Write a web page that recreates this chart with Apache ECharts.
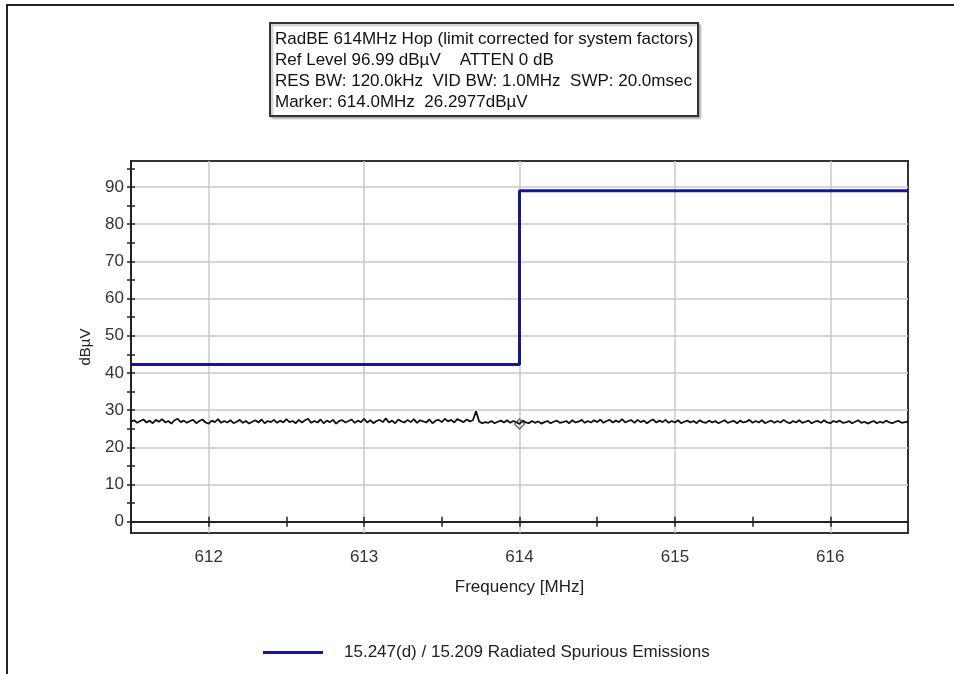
<!DOCTYPE html>
<html>
<head>
<meta charset="utf-8">
<script src="https://cdn.jsdelivr.net/npm/echarts@6/dist/echarts.min.js"></script>
<style>
html,body{margin:0;padding:0;background:#fff;}
#c{width:954px;height:674px;}
</style>
</head>
<body>
<div id="c"></div>
<script>
// ---------- data ----------
const headerLines = [
  'RadBE 614MHz Hop (limit corrected for system factors)',
  'Ref Level 96.99 dBµV    ATTEN 0 dB',
  'RES BW: 120.0kHz  VID BW: 1.0MHz  SWP: 20.0msec',
  'Marker: 614.0MHz  26.2977dBµV'
];
const limitName = '15.247(d) / 15.209 Radiated Spurious Emissions';
const limitFreq = [611.5, 614.0, 614.0, 616.5];
const limitLevel = [42.3, 42.3, 89.0, 89.0];

const sweepStart = 611.5;
const sweepStep = 0.02;
const traceLevel = [
  26.9, 27.3, 26.6, 27.1, 27.5, 26.7, 27.2, 26.5, 27.4, 26.9,
  27.6, 26.7, 27.1, 26.4, 27.3, 27.7, 26.8, 27.2, 26.6, 27.1,
  27.4, 26.5, 27.1, 27.5, 26.7, 26.4, 27.2, 26.8, 27.6, 26.6,
  27.1, 26.7, 27.3, 26.5, 26.9, 27.4, 26.6, 27.1, 26.4, 26.9,
  27.3, 26.7, 27.5, 26.5, 27.1, 26.8, 27.4, 26.6, 27.2, 26.7,
  27.6, 26.8, 27.1, 26.5, 27.4, 26.7, 27.3, 27.7, 26.6, 27.1,
  26.7, 27.5, 26.5, 27.2, 26.8, 27.4, 26.4, 27.1, 27.3, 26.7,
  27.1, 27.5, 26.6, 27.2, 26.8, 27.7, 26.7, 27.3, 26.5, 27.1,
  27.4, 26.8, 27.8, 26.7, 27.2, 26.5, 27.5, 27.0, 26.7, 27.4,
  26.8, 27.6, 26.6, 27.3, 27.0, 26.7, 27.5, 26.5, 27.2, 27.4,
  26.8, 27.7, 27.0, 27.4, 26.7, 27.6, 27.2, 26.8, 27.5, 27.0,
  27.3, 29.7, 27.0, 26.5, 26.8, 26.6, 27.1, 26.5, 26.9, 27.2,
  26.7, 27.3, 26.6, 27.1, 26.8, 26.3, 27.2, 26.7, 26.5, 27.1,
  26.6, 27.0, 26.4, 26.8, 27.1, 26.5, 26.9, 27.2, 26.6, 26.8,
  27.1, 26.5, 27.3, 26.7, 26.9, 27.4, 26.6, 27.1, 26.7, 27.3,
  26.8, 27.5, 26.6, 27.1, 27.4, 26.7, 27.2, 26.8, 27.6, 26.7,
  27.1, 27.3, 26.6, 27.4, 26.8, 27.2, 26.5, 27.1, 27.5, 26.7,
  27.2, 26.8, 27.4, 26.6, 27.1, 26.7, 27.3, 26.5, 26.9, 27.2,
  26.7, 27.1, 26.5, 27.3, 26.8, 26.6, 27.2, 26.7, 27.1, 26.5,
  26.9, 27.3, 26.6, 26.9, 27.1, 26.5, 27.2, 26.7, 26.9, 27.4,
  26.6, 27.1, 26.7, 27.3, 26.5, 26.9, 27.2, 26.6, 27.1, 26.7,
  27.4, 26.8, 26.5, 27.1, 26.7, 27.3, 26.6, 26.9, 27.2, 26.5,
  26.9, 27.1, 26.6, 27.3, 26.7, 26.5, 27.1, 26.8, 27.2, 26.6,
  26.7, 27.1, 26.5, 26.9, 27.3, 26.6, 26.9, 26.4, 26.8, 27.1,
  26.5, 26.9, 26.6, 27.2, 26.7, 26.5, 26.9, 27.1, 26.6, 26.8, 26.9
];
const markerFreq = [614.0];
const markerLevel = [26.2977];

const xLabelValues = [612, 613, 614, 615, 616];
const xTickValues = [612, 612.5, 613, 613.5, 614, 614.5, 615, 615.5, 616];
const yLabelValues = [0, 10, 20, 30, 40, 50, 60, 70, 80, 90];
const yTickValues = [0, 5, 10, 15, 20, 25, 30, 35, 40, 45, 50, 55, 60, 65, 70, 75, 80, 85, 90, 95];
const xMin = 611.5, xMax = 616.5;
const yMin = -3.01, yMax = 96.99;

// ---------- chart ----------
const FONT = "'Liberation Sans', Arial, sans-serif";
const INK = '#222';
const NAVY = '#16169a';

const limitData = limitFreq.map((f, i) => [f, limitLevel[i]]);
const traceData = traceLevel.map((v, i) => [+(sweepStart + i * sweepStep).toFixed(2), v]);
const markerData = markerFreq.map((f, i) => [f, markerLevel[i]]);

function tickAxisX(inside) {
  return {
    type: 'value', min: xMin, max: xMax, position: 'bottom', gridIndex: 0,
    axisLine: { show: false, onZero: true, onZeroAxisIndex: 0 },
    axisTick: { show: true, inside: inside, length: 5, customValues: xTickValues,
      lineStyle: { color: INK, width: 1.5 } },
    axisLabel: { show: false },
    splitLine: { show: false }
  };
}
function tickAxisY(inside) {
  return {
    type: 'value', min: yMin, max: yMax, position: 'left', gridIndex: 0,
    axisLine: { show: false, onZero: false },
    axisTick: { show: true, inside: inside, length: 4, customValues: yTickValues,
      lineStyle: { color: INK, width: 1.5 } },
    axisLabel: { show: false },
    splitLine: { show: false }
  };
}

const chart = echarts.init(document.getElementById('c'), null, { renderer: 'canvas' });
chart.setOption({
  animation: false,
  backgroundColor: '#fff',
  textStyle: { fontFamily: FONT },
  title: {
    text: headerLines.join('\n'),
    left: 270, top: 23,
    padding: [6, 5, 3, 5],
    borderColor: '#333', borderWidth: 2,
    backgroundColor: '#fff',
    shadowColor: 'rgba(0,0,0,0.25)', shadowOffsetX: 2, shadowOffsetY: 2, shadowBlur: 2,
    textStyle: { fontFamily: FONT, fontSize: 17, fontWeight: 'normal', color: '#111', lineHeight: 21 }
  },
  legend: {
    data: [limitName],
    left: 258, top: 639,
    icon: 'rect', itemWidth: 60, itemHeight: 3,
    textStyle: { fontFamily: FONT, fontSize: 17, color: '#222', padding: [0, 0, 0, 16] },
    selectedMode: false
  },
  graphic: [{
    type: 'polyline',
    shape: { points: [[7, 674], [7, 5], [954, 5]] },
    style: { stroke: '#222', lineWidth: 2, fill: null },
    silent: true
  }],
  grid: {
    left: 131, right: 46, top: 161, bottom: 141,
    show: true, borderColor: '#333', borderWidth: 2, backgroundColor: '#fff'
  },
  xAxis: [{
    type: 'value', min: xMin, max: xMax, position: 'bottom', gridIndex: 0,
    name: 'Frequency [MHz]', nameLocation: 'middle', nameGap: 46,
    nameTextStyle: { fontFamily: FONT, fontSize: 17, color: '#222' },
    axisLine: { show: true, onZero: true, onZeroAxisIndex: 0, lineStyle: { color: INK, width: 2 } },
    axisTick: { show: false, customValues: xLabelValues },
    axisLabel: { customValues: xLabelValues, margin: 16, fontFamily: FONT, fontSize: 17, color: '#333' },
    splitLine: { show: true, lineStyle: { color: '#c8c8c8', width: 1.5 } }
  }, tickAxisX(false), tickAxisX(true)],
  yAxis: [{
    type: 'value', min: yMin, max: yMax, position: 'left', gridIndex: 0,
    name: 'dBµV', nameLocation: 'middle', nameGap: 38,
    nameTextStyle: { fontFamily: FONT, fontSize: 15, color: '#222' },
    axisLine: { show: true, onZero: false, lineStyle: { color: INK, width: 2 } },
    axisTick: { show: false, customValues: yLabelValues },
    axisLabel: { customValues: yLabelValues, margin: 7, fontFamily: FONT, fontSize: 17, color: '#333' },
    splitLine: { show: true, lineStyle: { color: '#c8c8c8', width: 1.5 } }
  }, tickAxisY(false), tickAxisY(true)],
  series: [{
    name: limitName,
    type: 'line',
    xAxisIndex: 0, yAxisIndex: 0,
    data: limitData,
    symbol: 'none',
    lineStyle: { color: NAVY, width: 3 },
    itemStyle: { color: NAVY },
    z: 4
  }, {
    name: 'Trace',
    type: 'line',
    xAxisIndex: 0, yAxisIndex: 0,
    data: traceData,
    symbol: 'none',
    lineStyle: { color: '#111', width: 1.8 },
    itemStyle: { color: '#111' },
    z: 3
  }, {
    name: 'Marker',
    type: 'scatter',
    xAxisIndex: 0, yAxisIndex: 0,
    data: markerData,
    symbol: 'diamond', symbolSize: 10,
    itemStyle: { color: 'rgba(0,0,0,0)', borderColor: '#444', borderWidth: 1.3 },
    z: 5
  }]
});
</script>
</body>
</html>
